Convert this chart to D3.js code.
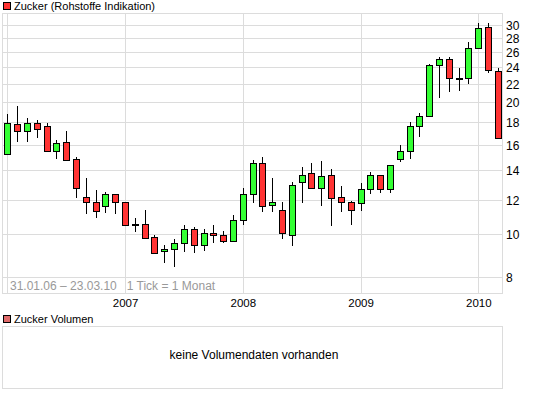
<!DOCTYPE html>
<html>
<head>
<meta charset="utf-8">
<script src="https://cdn.jsdelivr.net/npm/d3@7"></script>
<style>
  body { margin: 0; background: #fff; }
  svg text { font-family: "Liberation Sans", Arial, sans-serif; }
</style>
</head>
<body>
<div id="chart"></div>
<script>
// monthly candles, Jan 2006 .. Mar 2010
const months = ["2006-01","2006-02","2006-03","2006-04","2006-05","2006-06","2006-07","2006-08","2006-09","2006-10","2006-11","2006-12",
  "2007-01","2007-02","2007-03","2007-04","2007-05","2007-06","2007-07","2007-08","2007-09","2007-10","2007-11","2007-12",
  "2008-01","2008-02","2008-03","2008-04","2008-05","2008-06","2008-07","2008-08","2008-09","2008-10","2008-11","2008-12",
  "2009-01","2009-02","2009-03","2009-04","2009-05","2009-06","2009-07","2009-08","2009-09","2009-10","2009-11","2009-12",
  "2010-01","2010-02","2010-03"];
const open  = [15.2,17.8,17.15,17.9,17.6,15.45,16.2,14.8,12.1,11.8,11.6,12.3,
  11.8,10.55,10.55,9.85,9.15,9.25,9.54,10.27,9.44,10.05,9.95,9.64,
  10.76,12.33,14.5,11.64,11.34,9.93,13.13,13.77,12.73,13.62,12.1,11.83,
  11.76,12.66,13.62,12.66,14.8,15.45,17.63,18.55,24.23,25.0,22.64,22.64,
  26.48,29.56,23.43];
const high  = [18.8,19.6,18.4,18.2,17.9,16.4,17.2,15.0,13.4,12.6,12.5,12.35,
  11.85,10.9,11.35,9.97,9.45,9.75,10.5,10.37,10.27,10.5,10.2,11.06,
  12.73,14.76,15.0,13.4,11.83,13.13,14.2,14.5,14.68,14.06,12.88,11.9,
  13.1,13.84,13.65,14.4,15.96,18.03,18.9,24.4,25.3,25.3,23.85,27.33,
  30.3,30.3,23.85];
const low   = [15.15,16.2,16.2,16.6,15.4,14.8,14.7,12.1,11.1,10.9,11.2,11.15,
  10.45,10.1,9.8,9.05,8.6,8.45,9.13,9.05,9.17,9.54,9.55,9.6,
  10.5,11.76,11.26,11.26,9.74,9.42,11.76,12.7,11.62,10.46,11.26,10.5,
  11.31,12.33,12.45,12.4,14.6,14.8,16.67,18.5,20.45,21.1,21.2,21.94,
  26.4,23.24,16.45];
const close = [17.9,17.15,17.9,17.3,15.45,16.1,14.7,12.7,11.8,11.3,12.3,11.8,
  10.5,10.5,9.8,9.05,9.26,9.54,10.27,9.44,10.05,9.95,9.64,10.76,
  12.33,14.5,11.56,11.83,10.05,12.93,13.62,12.73,13.55,12.08,11.83,11.34,
  12.66,13.62,12.66,14.35,15.4,17.63,18.55,24.23,25.0,22.64,22.66,26.48,
  29.4,23.64,16.53];

const yTicks = [8, 10, 12, 14, 16, 18, 20, 22, 24, 26, 28, 30];
const yearLabels = ["2007", "2008", "2009", "2010"];
const yearStarts = ["2006-01", "2007-01", "2008-01", "2009-01", "2010-01"];

const width = 545;
const height = 395;
const plot = { left: 3, right: 503, top: 13, bottom: 293 };

const candles = months.map((m, i) => ({
  month: m, i: i, o: open[i], h: high[i], l: low[i], c: close[i]
}));

const svg = d3.select("#chart")
  .append("svg")
  .attr("width", width)
  .attr("height", height);

const x = d3.scaleLinear()
  .domain([0, 48])
  .range([7.3, 478.3]);

const y = d3.scaleLog()
  .domain([8, 30])
  .range([277, 24.5]);

const grid = "#dcdcdc";

// legend top
svg.append("rect")
  .attr("x", 3.5).attr("y", 2.5).attr("width", 7).attr("height", 7)
  .attr("fill", "#ff3333").attr("stroke", "#000");
svg.append("text")
  .attr("x", 14).attr("y", 10)
  .attr("font-size", 11)
  .text("Zucker (Rohstoffe Indikation)");

// gridlines
svg.append("g").selectAll("line")
  .data(yTicks)
  .join("line")
  .attr("x1", plot.left).attr("x2", plot.right)
  .attr("y1", d => Math.round(y(d)) + 0.5)
  .attr("y2", d => Math.round(y(d)) + 0.5)
  .attr("stroke", grid);

svg.append("g").selectAll("line")
  .data(yearStarts)
  .join("line")
  .attr("x1", d => Math.round(x(months.indexOf(d))) + 0.5)
  .attr("x2", d => Math.round(x(months.indexOf(d))) + 0.5)
  .attr("y1", plot.top).attr("y2", plot.bottom)
  .attr("stroke", grid);

// plot frame
svg.append("rect")
  .attr("x", plot.left - 0.5).attr("y", plot.top + 0.5)
  .attr("width", plot.right - plot.left)
  .attr("height", plot.bottom - plot.top)
  .attr("fill", "none")
  .attr("stroke", grid);

// y labels
svg.append("g").selectAll("text")
  .data(yTicks)
  .join("text")
  .attr("x", 506)
  .attr("y", d => y(d) + 5)
  .attr("font-size", 12)
  .text(d => d);

// year labels
svg.append("g").selectAll("text")
  .data(yearLabels)
  .join("text")
  .attr("x", d => x(months.indexOf(d + "-01")) + 0.5)
  .attr("y", 307)
  .attr("text-anchor", "middle")
  .attr("font-size", 11.5)
  .text(d => d);

svg.append("text")
  .attr("x", 10).attr("y", 290)
  .attr("font-size", 12)
  .attr("fill", "#999")
  .attr("xml:space", "preserve")
  .text("31.01.06 \u2013 23.03.10   1 Tick = 1 Monat");

// candles
const cg = svg.append("g").attr("shape-rendering", "crispEdges");

cg.selectAll("line.wick")
  .data(candles)
  .join("line")
  .attr("class", "wick")
  .attr("x1", d => Math.round(x(d.i)) + 0.5)
  .attr("x2", d => Math.round(x(d.i)) + 0.5)
  .attr("y1", d => y(d.h))
  .attr("y2", d => y(d.l))
  .attr("stroke", "#000");

cg.selectAll("rect.body")
  .data(candles)
  .join("rect")
  .attr("class", "body")
  .attr("x", d => Math.round(x(d.i)) - 2.5)
  .attr("width", 6)
  .attr("y", d => y(Math.max(d.o, d.c)))
  .attr("height", d => Math.max(1, y(Math.min(d.o, d.c)) - y(Math.max(d.o, d.c))))
  .attr("fill", d => d.c >= d.o ? "#33ff33" : "#ff3333")
  .attr("stroke", "#000");

// volume panel
svg.append("rect")
  .attr("x", 3.5).attr("y", 315.5).attr("width", 7).attr("height", 7)
  .attr("fill", "#e06b6b").attr("stroke", "#000");
svg.append("text")
  .attr("x", 14).attr("y", 323)
  .attr("font-size", 11)
  .text("Zucker Volumen");

svg.append("rect")
  .attr("x", 2.5).attr("y", 326.5)
  .attr("width", 500).attr("height", 62)
  .attr("fill", "none")
  .attr("stroke", grid);

svg.append("text")
  .attr("x", 254).attr("y", 359)
  .attr("text-anchor", "middle")
  .attr("font-size", 12)
  .text("keine Volumendaten vorhanden");
</script>
</body>
</html>
